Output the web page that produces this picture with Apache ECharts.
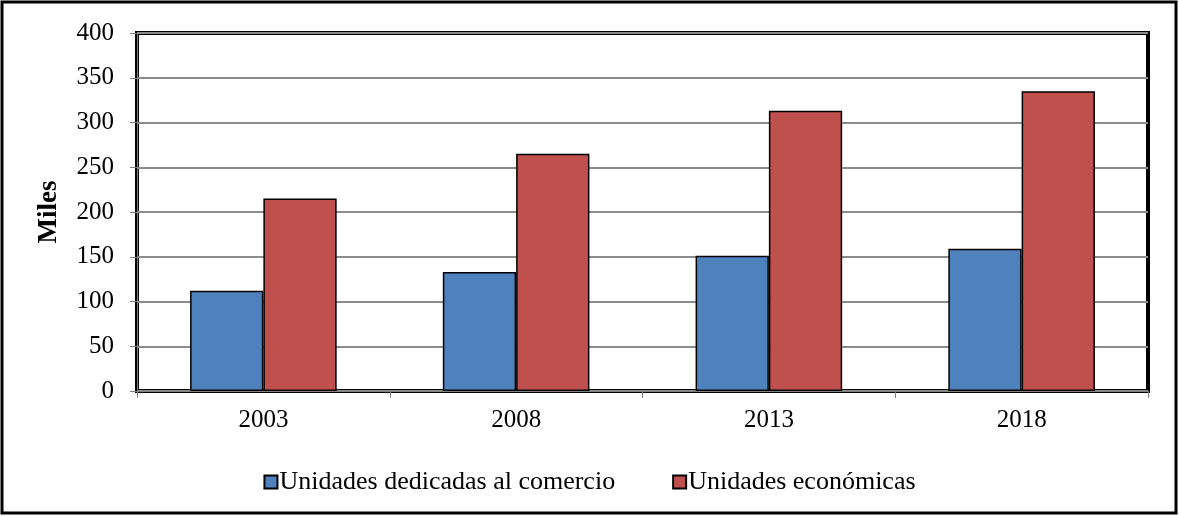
<!DOCTYPE html>
<html>
<head>
<meta charset="utf-8">
<script src="https://cdn.jsdelivr.net/npm/echarts@6/dist/echarts.min.js"></script>
<style>
html,body{margin:0;padding:0;background:#fff;}
#c{width:1179px;height:516px;}
</style>
</head>
<body>
<div id="c"></div>
<script>
const categories = ['2003', '2008', '2013', '2018'];
const comercio = [112, 133, 151, 159];
const economicas = [215, 265, 313, 335];
const seriesNames = ['Unidades dedicadas al comercio', 'Unidades económicas'];
const yTicks = { min: 0, max: 400, interval: 50 };

const font = 'Liberation Serif, Times New Roman, serif';
const chart = echarts.init(document.getElementById('c'));
chart.setOption({
  backgroundColor: '#fff',
  animation: false,
  graphic: [{
    type: 'rect',
    shape: { x: 2, y: 2, width: 1174, height: 511 },
    style: { fill: 'none', stroke: '#000', lineWidth: 3 },
    silent: true
  }],
  grid: {
    left: 137, right: 31, top: 33, bottom: 125,
    show: true, borderColor: '#000', borderWidth: 4, backgroundColor: 'transparent'
  },
  legend: {
    top: 464, left: 'center',
    itemWidth: 13, itemHeight: 13, itemGap: 57,
    icon: 'rect',
    textStyle: { fontFamily: font, fontSize: 26, color: '#000', padding: [0, 0, 0, -3] },
    data: seriesNames
  },
  xAxis: {
    type: 'category',
    data: categories,
    axisLine: { lineStyle: { color: '#808080', width: 1 } },
    axisTick: { show: true, length: 7, lineStyle: { color: '#808080' } },
    axisLabel: { fontFamily: font, fontSize: 25, color: '#000', margin: 17 }
  },
  yAxis: {
    type: 'value',
    min: yTicks.min, max: yTicks.max, interval: yTicks.interval,
    name: 'Miles',
    nameLocation: 'middle',
    nameGap: 74,
    nameRotate: 90,
    nameTextStyle: { fontFamily: font, fontSize: 27, fontWeight: 'bold', color: '#000' },
    axisLine: { show: true, lineStyle: { color: '#808080', width: 1 } },
    axisTick: { show: true, length: 7, lineStyle: { color: '#808080' } },
    axisLabel: { fontFamily: font, fontSize: 25, color: '#000', margin: 23 },
    splitLine: { lineStyle: { color: '#8c8c8c', width: 2 } }
  },
  series: [
    {
      name: seriesNames[0], type: 'bar', data: comercio,
      barWidth: '29%', barGap: '0%',
      itemStyle: { color: '#4F81BD', borderColor: '#000', borderWidth: 1.5 }
    },
    {
      name: seriesNames[1], type: 'bar', data: economicas,
      barWidth: '29%', barGap: '0%',
      itemStyle: { color: '#C0504D', borderColor: '#000', borderWidth: 1.5 }
    }
  ]
});
</script>
</body>
</html>
